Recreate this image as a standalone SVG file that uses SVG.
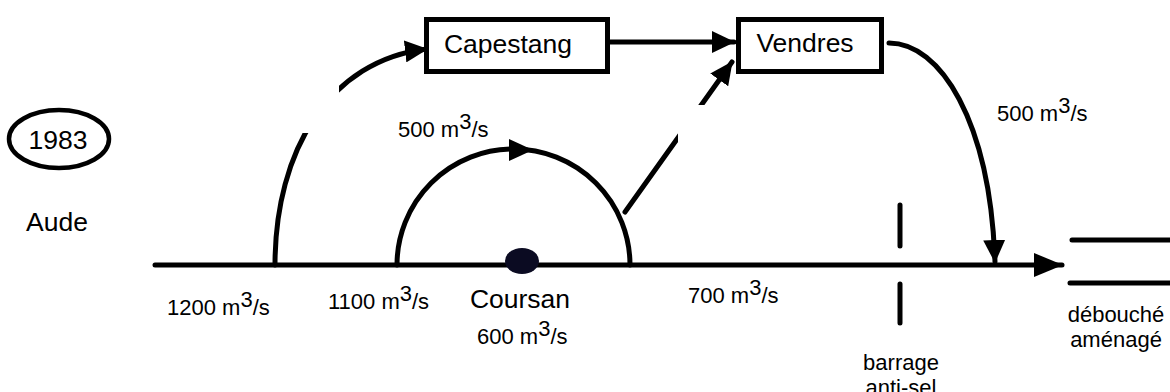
<svg xmlns="http://www.w3.org/2000/svg" width="1170" height="392" viewBox="0 0 1170 392">
  <defs>
    <style>
      text { font-family: "Liberation Sans", Arial, sans-serif; fill: #000; }
      .node { font-size: 26.5px; }
      .flow { font-size: 22px; }
      .box { fill: #fff; stroke: #000; stroke-width: 5; }
      .line { fill: none; stroke: #000; stroke-width: 5; stroke-linecap: round; }
      .mask { fill: #fff; stroke: none; }
    </style>
    <marker id="head" markerUnits="userSpaceOnUse" markerWidth="24" markerHeight="22" refX="22" refY="11" orient="auto">
      <path d="M0,0 L23,11 L0,22 Z" fill="#000"/>
    </marker>
    <marker id="headBig" markerUnits="userSpaceOnUse" markerWidth="30" markerHeight="24" refX="28" refY="12" orient="auto">
      <path d="M0,0 L29,12 L0,24 Z" fill="#000"/>
    </marker>
  </defs>

  <rect width="1170" height="392" fill="#fff"/>

  <!-- year tag and river name -->
  <g id="year">
    <ellipse cx="59" cy="139" rx="50" ry="29" fill="#fff" stroke="#000" stroke-width="4.5"/>
    <text class="node" x="58" y="148.5" text-anchor="middle">1983</text>
  </g>
  <g id="aude">
    <text class="node" x="57" y="231" text-anchor="middle">Aude</text>
  </g>

  <!-- connectors -->
  <g id="connectors">
    <!-- main course of the river -->
    <path class="line" d="M155,265 L1062,265" marker-end="url(#headBig)"/>
    <!-- branch to Capestang -->
    <path class="line" d="M275,265 C275,150 330,60 427,49" stroke-linecap="butt" marker-end="url(#head)"/>
    <!-- Coursan loop -->
    <path class="line" d="M397,265 A116.5,116 0 0 1 630,265" stroke-linecap="butt"/>
    <path d="M509,139 L533,150 L509,161 Z" fill="#000"/>
    <!-- Capestang to Vendres -->
    <path class="line" d="M610,42 L734,42" stroke-linecap="butt" marker-end="url(#head)"/>
    <!-- loop to Vendres -->
    <path class="line" d="M625,212 L732,62" stroke-width="6" marker-end="url(#head)"/>
    <!-- Vendres back to the river -->
    <path class="line" d="M889,43 C940,43 990,120 995,262" marker-end="url(#head)"/>
    <!-- gaps in the branches -->
    <rect class="mask" x="240" y="60" width="99" height="73"/>
    <rect class="mask" x="678" y="105" width="60" height="100"/>
    <!-- anti-salt dam -->
    <path class="line" d="M900,205 L900,246 M900,284 L900,323"/>
    <!-- river mouth banks -->
    <path class="line" d="M1072,240 L1172,240 M1070,283 L1172,283"/>
  </g>

  <g id="capestang">
    <rect class="box" x="426.5" y="19.5" width="181" height="52"/>
    <text class="node" x="508" y="53" text-anchor="middle">Capestang</text>
  </g>
  <g id="vendres">
    <rect class="box" x="738.5" y="19.5" width="143" height="52"/>
    <text class="node" x="805" y="52" text-anchor="middle">Vendres</text>
  </g>
  <g id="coursan">
    <ellipse cx="522" cy="261" rx="17" ry="13" fill="#0b0b22"/>
    <text class="node" x="520" y="308" text-anchor="middle">Coursan</text>
  </g>
  <g id="barrage">
    <text class="flow" x="901" y="370" text-anchor="middle">barrage</text>
    <text class="flow" x="901" y="395" text-anchor="middle">anti-sel</text>
  </g>
  <g id="debouche">
    <text class="flow" x="1116" y="322" text-anchor="middle">débouché</text>
    <text class="flow" x="1116" y="347" text-anchor="middle">aménagé</text>
  </g>

  <!-- discharge labels -->
  <g id="flows">
    <text class="flow" x="167" y="315">1200 m<tspan dy="-8">3</tspan><tspan dy="8">/s</tspan></text>
    <text class="flow" x="328" y="309">1100 m<tspan dy="-8">3</tspan><tspan dy="8">/s</tspan></text>
    <text class="flow" x="398" y="137">500 m<tspan dy="-8">3</tspan><tspan dy="8">/s</tspan></text>
    <text class="flow" x="477" y="344">600 m<tspan dy="-8">3</tspan><tspan dy="8">/s</tspan></text>
    <text class="flow" x="688" y="303">700 m<tspan dy="-8">3</tspan><tspan dy="8">/s</tspan></text>
    <text class="flow" x="997" y="121">500 m<tspan dy="-8">3</tspan><tspan dy="8">/s</tspan></text>
  </g>
</svg>
